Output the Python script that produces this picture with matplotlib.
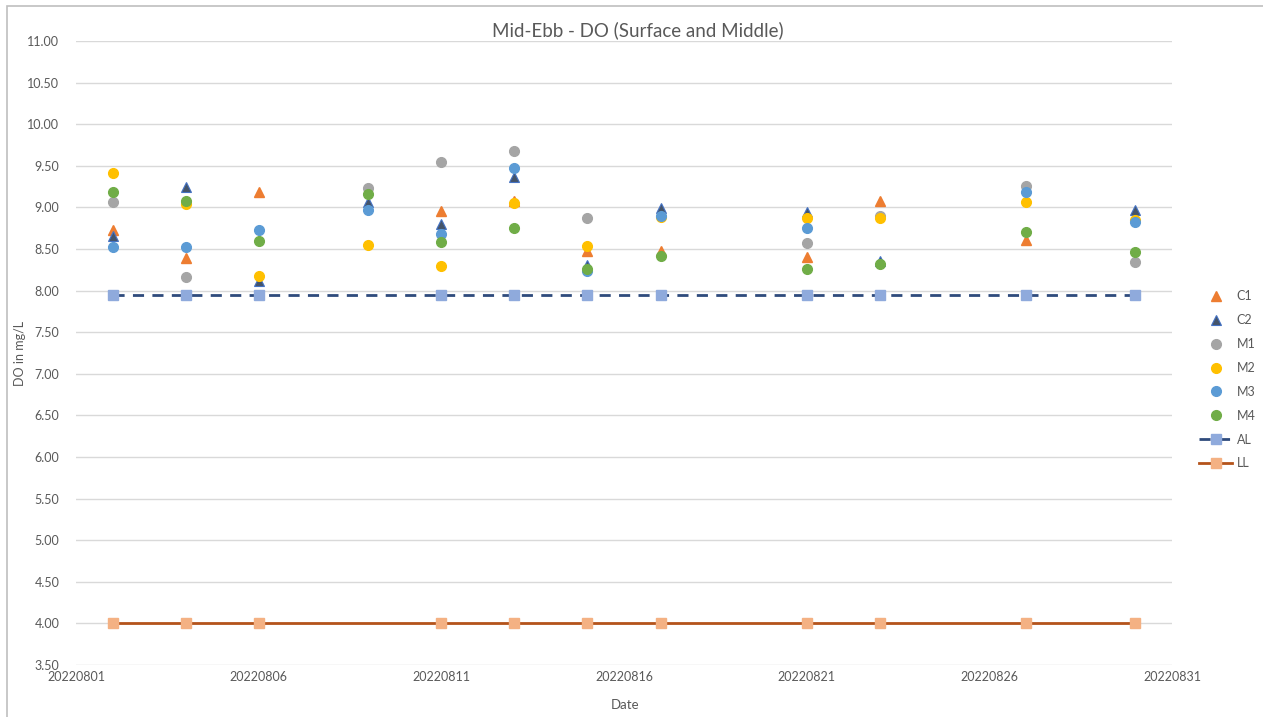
import numpy as np
import matplotlib
matplotlib.use("Agg")
import matplotlib.pyplot as plt
from matplotlib.patches import Rectangle

plt.rcParams['font.family'] = ['Lato', 'DejaVu Sans']

nan = np.nan
# sampling dates (yyyymmdd as numbers, like the excel value axis)
dates = [20220802, 20220804, 20220806, 20220809, 20220811, 20220813,
         20220815, 20220817, 20220821, 20220823, 20220827, 20220830]

C1 = [8.73, 8.39, 9.18, nan, 8.96, 9.08, 8.47, 8.48, 8.40, 9.08, 8.61, nan]
C2 = [8.66, 9.25, 8.11, 9.07, 8.80, 9.36, 8.31, 8.99, 8.95, 8.35, nan, 8.97]
M1 = [9.06, 8.16, nan, 9.23, 9.55, 9.68, 8.87, nan, 8.57, 8.90, 9.26, 8.34]
M2 = [9.41, 9.04, 8.17, 8.55, 8.29, 9.05, 8.54, 8.88, 8.87, 8.87, 9.07, 8.85]
M3 = [8.53, 8.53, 8.73, 8.97, 8.68, 9.47, 8.24, 8.90, 8.75, nan, 9.18, 8.82]
M4 = [9.18, 9.08, 8.60, 9.16, 8.59, 8.75, 8.26, 8.42, 8.26, 8.32, 8.71, 8.46]

# action level / limit level (no reading on 0809)
limit_dates = [20220802, 20220804, 20220806, 20220811, 20220813, 20220815,
               20220817, 20220821, 20220823, 20220827, 20220830]
AL = [7.95] * len(limit_dates)
LL = [4.00] * len(limit_dates)

xticks = [20220801, 20220806, 20220811, 20220816, 20220821, 20220826, 20220831]
yticks = np.arange(3.5, 11.01, 0.5)

W, H = 1263, 717
fig = plt.figure(figsize=(W / 100, H / 100), dpi=100)
fig.patches.append(Rectangle((7 / W, -0.1), 1.2, 1 - 5.5 / H + 0.1, transform=fig.transFigure,
                             fill=False, edgecolor='#bfbfbf', linewidth=1.2))

ax = fig.add_axes([76 / W, 1 - 665 / H, (1172 - 76) / W, (665 - 41) / H])

ax.plot(dates, C1, '^', color='#ED7D31', markersize=7, label='C1', zorder=3)
ax.plot(dates, C2, '^', color='#44546A', markeredgecolor='#4472C4', markeredgewidth=0.8,
        markersize=7, label='C2', zorder=3)
ax.plot(dates, M1, 'o', color='#A5A5A5', markersize=7, label='M1', zorder=3)
ax.plot(dates, M2, 'o', color='#FFC000', markersize=7, label='M2', zorder=3)
ax.plot(dates, M3, 'o', color='#5B9BD5', markersize=7, label='M3', zorder=3)
ax.plot(dates, M4, 'o', color='#70AD47', markersize=7, label='M4', zorder=3)
ax.plot(limit_dates, AL, '--s', color='#2F4B7C', linewidth=2, dashes=(4, 3),
        markerfacecolor='#8FAADC', markeredgecolor='#8FAADC', markersize=7.5, label='AL', zorder=2)
ax.plot(limit_dates, LL, '-s', color='#B4531A', linewidth=2,
        markerfacecolor='#F4B183', markeredgecolor='#F4B183', markersize=7.5, label='LL', zorder=2)

ax.set_xlim(20220801, 20220831)
ax.set_ylim(3.5, 11.0)
ax.set_xticks(xticks)
ax.set_xticklabels([str(t) for t in xticks])
ax.set_yticks(yticks)
ax.set_yticklabels(['%.2f' % v for v in yticks])
ax.tick_params(axis='both', length=0, labelsize=9, colors='#595959')
ax.tick_params(axis='y', pad=12)
ax.tick_params(axis='x', pad=4)
ax.grid(axis='y', color='#d9d9d9', linewidth=1)
ax.set_axisbelow(True)
for s in ax.spines.values():
    s.set_visible(False)

fig.text(638 / W, 1 - 30 / H, 'Mid-Ebb - DO (Surface and Middle)', ha='center', va='center',
         fontsize=13.5, color='#595959')
fig.text(20 / W, 1 - 353 / H, 'DO in mg/L', rotation=90, ha='center', va='center',
         fontsize=9, color='#595959')
fig.text(625 / W, 1 - 705 / H, 'Date', ha='center', va='center', fontsize=9.5, color='#595959')

leg = ax.legend(loc='upper left', bbox_to_anchor=(1188 / W, 1 - 279 / H), bbox_transform=fig.transFigure,
                frameon=False, fontsize=9, labelspacing=0.95, handlelength=2.6, handletextpad=0.4)
for t in leg.get_texts():
    t.set_color('#595959')

fig.savefig('out.png', dpi=100)
